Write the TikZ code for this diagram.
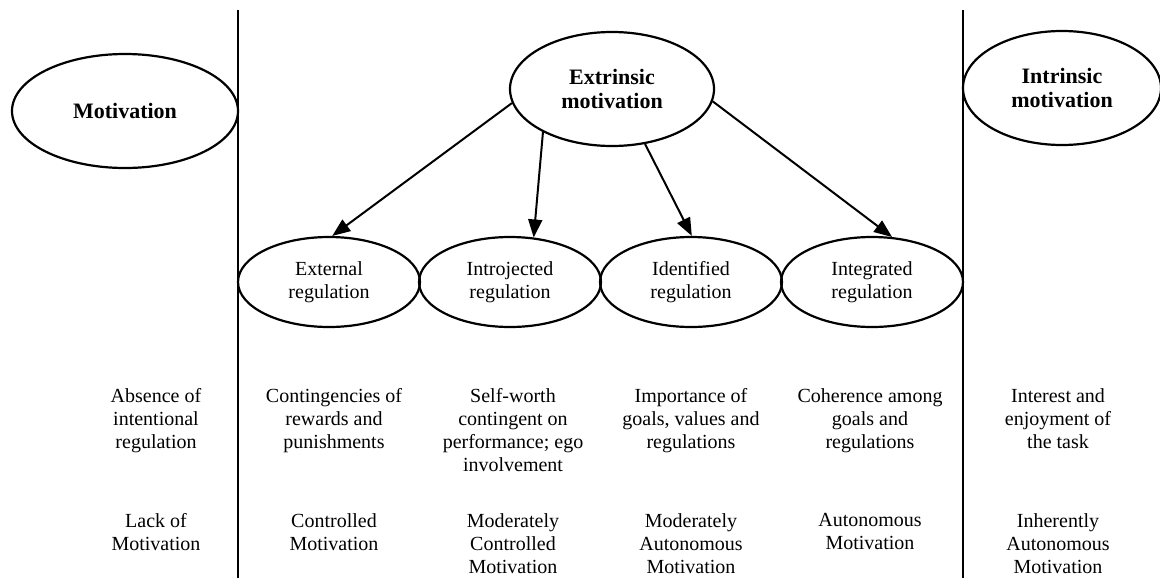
\documentclass[tikz,border=0pt]{standalone}
\usepackage{fontspec}
\setmainfont{Liberation Serif}
\usetikzlibrary{shapes.geometric,arrows.meta}
\begin{document}
\begin{tikzpicture}[x=0.5pt,y=-0.5pt,
    oval/.style={ellipse, draw, line width=1.1pt, inner sep=0pt, align=center},
    bigoval/.style={oval, minimum width=102pt, minimum height=57pt, font=\fontsize{11}{12}\selectfont\bfseries},
    regoval/.style={oval, minimum width=91pt, minimum height=45pt, font=\fontsize{10}{11.5}\selectfont},
    desc/.style={align=center, anchor=north, inner sep=0pt, font=\fontsize{10}{11.5}\selectfont},
    link/.style={-{Triangle[length=9pt,width=7pt]}, line width=1pt}]
    \useasboundingbox (0,0) rectangle (1160,578);
    % dividing lines
    \draw[line width=1.3pt] (238,10)--(238,578);
    \draw[line width=1.3pt] (963,10)--(963,578);
    % top ovals
    \node[bigoval, minimum width=113pt] (mot) at (125,111) {Motivation};
    \node[bigoval] (ext) at (612,89) {Extrinsic\\motivation};
    \node[bigoval, minimum width=99pt] (intr) at (1062,88) {Intrinsic\\motivation};
    % regulation ovals
    \node[regoval] (extreg) at (329,282) {External\\regulation};
    \node[regoval] (introreg) at (510,282) {Introjected\\regulation};
    \node[regoval] (identreg) at (691,282) {Identified\\regulation};
    \node[regoval] (integreg) at (872,282) {Integrated\\regulation};
    \draw[link] (ext.188)--(extreg.86);
    \draw[link] (ext.212)--(introreg.62);
    \draw[link] (ext.301)--(identreg.89);
    \draw[link] (ext.353)--(integreg.66);
    % regulatory processes
    \node[desc] (proc0) at (156,388) {Absence of\\intentional\\regulation};
    \node[desc] (proc1) at (334,388) {Contingencies of\\rewards and\\punishments};
    \node[desc] (proc2) at (513,388) {Self-worth\\contingent on\\performance; ego\\involvement};
    \node[desc] (proc3) at (691,388) {Importance of\\goals, values and\\regulations};
    \node[desc] (proc4) at (870,388) {Coherence among\\goals and\\regulations};
    \node[desc] (proc5) at (1058,388) {Interest and\\enjoyment of\\the task};
    % motivation levels
    \node[desc] (lvl0) at (156,513) {Lack of\\Motivation};
    \node[desc] (lvl1) at (334,513) {Controlled\\Motivation};
    \node[desc] (lvl2) at (513,513) {Moderately\\Controlled\\Motivation};
    \node[desc] (lvl3) at (691,513) {Moderately\\Autonomous\\Motivation};
    \node[desc] (lvl4) at (870,513) {Autonomous\\Motivation};
    \node[desc] (lvl5) at (1058,513) {Inherently\\Autonomous\\Motivation};
\end{tikzpicture}
\end{document}
